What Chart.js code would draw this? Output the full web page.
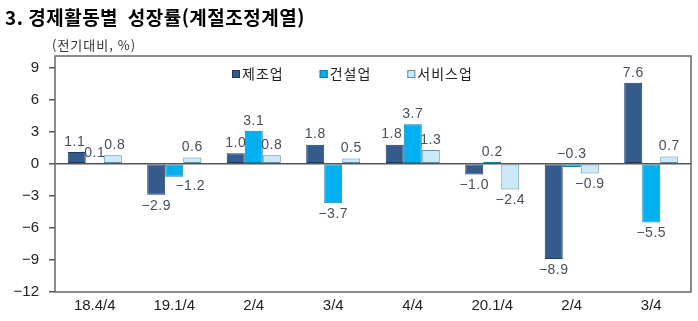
<!DOCTYPE html>
<html lang="ko">
  <head>
    <meta charset="UTF-8" />
    <script src="https://cdn.jsdelivr.net/npm/chart.js@4.4.1/dist/chart.umd.min.js"></script>
    <title>경제활동별 성장률</title>
    <style>
      body { margin: 0; padding: 0; background: #fff; }
      .container { width: 698px; height: 321px; }
    </style>
  </head>
  <body>
    <div class="container">
      <canvas id="growthChart" width="698" height="321"></canvas>
    </div>
    <script>
      const categories = ['18.4/4', '19.1/4', '2/4', '3/4', '4/4', '20.1/4', '2/4', '3/4']
      const manufacturing = [1.1, -2.9, 1.0, 1.8, 1.8, -1.0, -8.9, 7.6]
      const construction = [0.1, -1.2, 3.1, -3.7, 3.7, 0.2, -0.3, -5.5]
      const services = [0.8, 0.6, 0.8, 0.5, 1.3, -2.4, -0.9, 0.7]
      const yTicks = [-12, -9, -6, -3, 0, 3, 6, 9]

      const FONT = "'Liberation Sans', 'Noto Sans CJK KR', sans-serif"
      const KFONT = "'Noto Sans CJK KR', sans-serif"
      const fmt = (v) => (v < 0 ? '\u2212' : '') + Math.abs(v).toFixed(1)

      // a few labels are moved by hand in the original
      const nudges = {
        '1-1': { dx: 16, dy: -2 },
        '1-6': { above: true },
        '0-4': { dx: -3 },
        '0-0': { dx: -2 },
        '2-0': { dx: 2 },
      }

      const decor = {
        id: 'decor',
        beforeDraw(chart) {
          const { ctx } = chart
          ctx.save()
          ctx.fillStyle = '#000'
          ctx.textBaseline = 'middle'
          ctx.letterSpacing = '0.5px'
          ctx.font = `bold 19px ${KFONT}`
          ctx.fillText('3. 경제활동별  성장률(계절조정계열)', 5, 18)
          ctx.letterSpacing = '1px'
          ctx.font = `13px ${KFONT}`
          ctx.fillStyle = '#333'
          ctx.fillText('(전기대비, %)', 52, 45)
          ctx.restore()
        },
        afterDatasetsDraw(chart) {
          const { ctx, chartArea: a } = chart
          ctx.save()
          // frame
          ctx.strokeStyle = '#666'
          ctx.lineWidth = 1.5
          ctx.strokeRect(a.left, a.top, a.right - a.left, a.bottom - a.top)

          // value labels
          ctx.font = `14px ${FONT}`
          ctx.fillStyle = '#46505c'
          ctx.textAlign = 'center'
          ctx.letterSpacing = '0.5px'
          const zeroY = chart.scales.y.getPixelForValue(0)
          chart.data.datasets.forEach((ds, di) => {
            chart.getDatasetMeta(di).data.forEach((bar, i) => {
              const v = ds.data[i]
              const n = nudges[di + '-' + i] || {}
              const x = bar.x + (n.dx || 0)
              let y
              if (v >= 0 || n.above) {
                ctx.textBaseline = 'bottom'
                y = Math.min(bar.y, zeroY) - 3
              } else {
                ctx.textBaseline = 'top'
                y = bar.y + 4
              }
              y += n.dy || 0
              ctx.fillText(fmt(v), x, y)
            })
          })

          // legend drawn inside the plot
          let lx = 232
          const ly = 74
          ctx.font = `14px ${KFONT}`
          ctx.textAlign = 'left'
          ctx.textBaseline = 'middle'
          ctx.letterSpacing = '1px'
          chart.data.datasets.forEach((ds) => {
            ctx.fillStyle = ds.backgroundColor
            ctx.strokeStyle = ds.borderColor
            ctx.lineWidth = 1
            ctx.fillRect(lx, ly - 4, 8, 8)
            ctx.strokeRect(lx + 0.5, ly - 3.5, 7, 7)
            ctx.fillStyle = '#222'
            ctx.fillText(ds.label, lx + 10, ly)
            lx += ctx.measureText(ds.label).width + 10 + 36
          })
          ctx.restore()
        },
      }

      new Chart(document.getElementById('growthChart'), {
        type: 'bar',
        data: {
          labels: categories,
          datasets: [
            { label: '제조업', data: manufacturing, backgroundColor: '#335b8c', borderColor: '#1d3a60', borderWidth: 1 },
            { label: '건설업', data: construction, backgroundColor: '#00b0f0', borderColor: '#0a7fae', borderWidth: 1 },
            { label: '서비스업', data: services, backgroundColor: '#cce9fa', borderColor: '#5a8eaa', borderWidth: 1 },
          ],
        },
        options: {
          responsive: false,
          animation: false,
          layout: { padding: { top: 56, right: 7, left: 0, bottom: 0 } },
          datasets: {
            bar: { barPercentage: 1, categoryPercentage: 0.68, borderSkipped: false },
          },
          plugins: {
            legend: { display: false },
            tooltip: { enabled: false },
          },
          scales: {
            x: {
              grid: { display: false, drawTicks: false },
              border: { display: false },
              ticks: { color: '#222', font: { family: FONT, size: 15 }, padding: 5 },
              afterFit: (s) => { s.height = 29 },
            },
            y: {
              min: -12,
              max: 10.1,
              border: { display: false },
              grid: {
                color: (c) => (c.tick && c.tick.value === 0 ? '#555' : 'transparent'),
                tickColor: '#555',
                tickLength: 6,
                lineWidth: 1.5,
              },
              ticks: { color: '#222', font: { family: FONT, size: 15 }, padding: 10, callback: (v) => (v < 0 ? '\u2212' + Math.abs(v) : v) },
              afterBuildTicks: (s) => { s.ticks = yTicks.map((v) => ({ value: v })) },
              afterFit: (s) => { s.width = 55 },
            },
          },
        },
        plugins: [decor],
      })
    </script>
  </body>
</html>
